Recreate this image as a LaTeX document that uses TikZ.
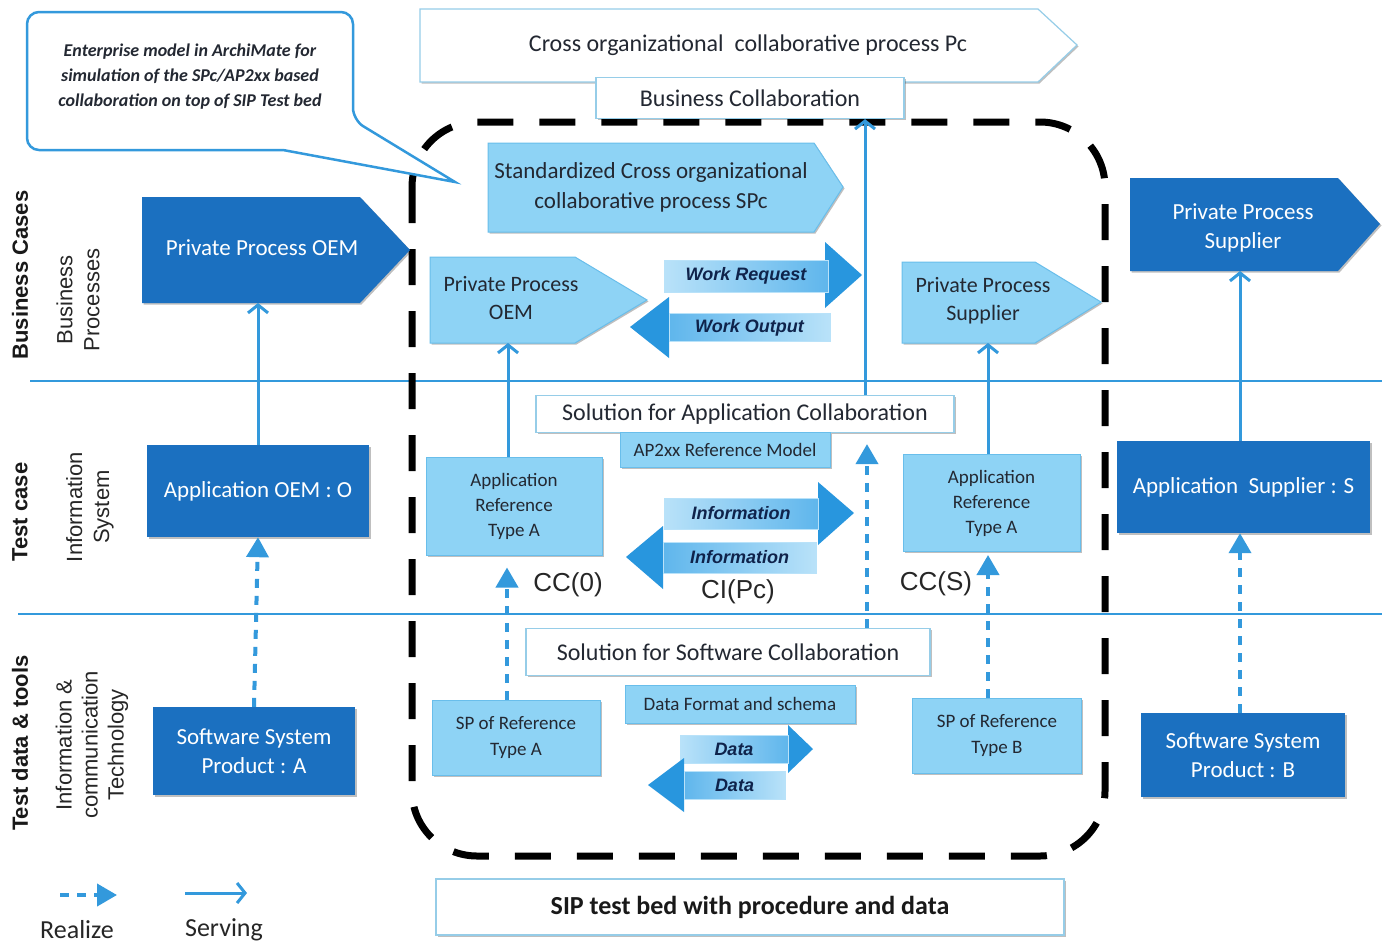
\documentclass[tikz,border=0pt]{standalone}
\usepackage{fontspec}
\setmainfont{Carlito}
\newfontfamily\arialf{Liberation Sans}
\usetikzlibrary{arrows.meta,shadows,calc}
\definecolor{dkblue}{RGB}{27,112,192}
\definecolor{ltblue}{RGB}{142,211,245}
\definecolor{ltborder}{RGB}{105,190,235}
\definecolor{lineblue}{RGB}{51,153,220}
\definecolor{wborder}{RGB}{150,205,232}
\definecolor{arrowblue}{RGB}{40,150,222}
\definecolor{arrowmid}{RGB}{95,182,236}
\definecolor{arrowlight}{RGB}{185,226,249}
\definecolor{navy}{RGB}{15,35,75}
\definecolor{txtdark}{RGB}{35,40,50}
\newcommand\fsz[2]{\fontsize{#1}{#2}\selectfont}
\tikzset{
 shd/.style={drop shadow={shadow xshift=1.5pt,shadow yshift=-1.5pt,opacity=0.25,fill=black}},
 dkbox/.style={fill=dkblue, draw=none, text=white, inner sep=0pt, align=center, font=\fsz{23}{29}, shd},
 ltbox/.style={fill=ltblue, draw=ltborder, line width=1pt, text=txtdark, inner sep=0pt, align=center, font=\fsz{19}{25}, shd},
 wbox/.style={fill=white, draw=wborder, line width=1.2pt, text=txtdark, inner sep=0pt, align=center, font=\fsz{24}{28}, shd},
 txt/.style={inner sep=0pt, align=center},
 lane/.style={draw=lineblue, line width=2.5pt},
 serve/.style={draw=lineblue, line width=3pt, -{Straight Barb[length=8pt,width=20pt]}},
 realize/.style={draw=lineblue, line width=4pt, dash pattern=on 9pt off 8pt, -{Triangle[length=20pt,width=22pt]}},
 fat/.style={fill=arrowblue, draw=none},
 lblR/.style={left color=arrowlight, right color=arrowmid, draw=arrowlight, line width=0.8pt, inner sep=0pt, text=navy, font=\arialf\bfseries\itshape\fsz{18}{20}},
 lblL/.style={left color=arrowmid, right color=arrowlight, draw=arrowlight, line width=0.8pt, inner sep=0pt, text=navy, font=\arialf\bfseries\itshape\fsz{18}{20}},
 lanelbl/.style={rotate=90, inner sep=0pt, align=center, text=black!85, font=\arialf\fsz{22}{27}},
 lanehead/.style={rotate=90, inner sep=0pt, text=black!90, font=\arialf\bfseries\fsz{22}{26}},
 cclbl/.style={inner sep=0pt, text=black!85, font=\arialf\fsz{26}{30}},
 legtxt/.style={inner sep=0pt, text=black!85, font=\fsz{26}{30}},
}
\begin{document}
\begin{tikzpicture}[x=1pt,y=-1pt]
\useasboundingbox (0,0) rectangle (1389,946);
\fill[white] (0,0) rectangle (1389,946);

% lane separators
\draw[lane] (30,381) -- (1382,381);
\draw[lane] (18,614) -- (1382,614);

% dashed test bed boundary
\draw[black, line width=7pt, dash pattern=on 36pt off 26pt, rounded corners=65pt] (412,122) rectangle (1105,856);

% callout
\draw[draw=lineblue, line width=2.5pt, fill=white, rounded corners=12pt] (27,80) -- (27,12) -- (353,12) -- (353,120) [sharp corners] -- (455,182) -- (283,150) [rounded corners=12pt] -- (27,150) -- cycle;
\node[txt, font=\bfseries\itshape\fsz{18}{25}, text=txtdark] (callT) at (190,77) {Enterprise model in ArchiMate for\\simulation of the SPc/AP2xx based\\collaboration on top of SIP Test bed};

% lane labels
\node[lanehead] (lbc) at (20,275) {Business Cases};
\node[lanelbl] (lbp) at (78,300) {Business\\Processes};
\node[lanehead] (ltc) at (20,512) {Test case};
\node[lanelbl] (lis) at (90,507) {Information\\System};
\node[lanehead] (ltd) at (20,743) {Test data \& tools};
\node[lanelbl, font=\arialf\fsz{22}{26}] (lict) at (92,745) {Information \&\\communication\\Technology};

% top process
\path[fill=white, draw=wborder, line width=1.2pt, shd] (420,9) -- (1038,9) -- (1077,45) -- (1038,82) -- (420,82) -- cycle;
\node[txt, font=\fsz{24}{28}, text=txtdark] (cross) at (748,45) {Cross organizational\ \ collaborative process Pc};
\node[wbox, minimum width=308pt, minimum height=41pt] (bc) at (750,98) {Business Collaboration};

% left column (OEM)
\path[fill=dkblue, shd] (142,197) -- (360,197) -- (410,250) -- (360,303) -- (142,303) -- cycle;
\node[txt, font=\fsz{23}{28}, text=white] (ppoem) at (262,248) {Private Process OEM};
\coordinate (ppoemB) at (258,303);
\node[dkbox, minimum width=222pt, minimum height=92pt] (appoem) at (258,491) {Application OEM : O};
\node[dkbox, minimum width=202pt, minimum height=88pt] (swa) at (254,751) {Software System\\Product : A};

% right column (supplier)
\path[fill=dkblue, shd] (1130,178) -- (1338,178) -- (1380,224) -- (1338,271) -- (1130,271) -- cycle;
\node[txt, font=\fsz{23}{29}, text=white] (ppsup) at (1243,228) {Private Process\\Supplier};
\coordinate (ppsupB) at (1240,271);
\node[dkbox, minimum width=253pt, minimum height=92pt] (appsup) at (1243.5,487) {Application\ \ Supplier : S};
\node[dkbox, minimum width=204pt, minimum height=84pt] (swb) at (1243,755) {Software System\\Product : B};

% inner business layer
\path[fill=ltblue, draw=ltborder, line width=1pt, shd] (488,143) -- (814,143) -- (843,187) -- (814,232) -- (488,232) -- cycle;
\node[txt, font=\fsz{23}{30}, text=txtdark] (spc) at (651,187) {Standardized Cross organizational\\collaborative process SPc};
\path[fill=ltblue, draw=ltborder, line width=1pt, shd] (430,257) -- (575,257) -- (647,300) -- (575,343) -- (430,343) -- cycle;
\node[txt, font=\fsz{22}{28}, text=txtdark] (ppoemi) at (511,298) {Private Process\\OEM};
\coordinate (ppoemiB) at (508,343);
\path[fill=ltblue, draw=ltborder, line width=1pt, shd] (902,262) -- (1035,262) -- (1101,302) -- (1035,343) -- (902,343) -- cycle;
\node[txt, font=\fsz{22}{28}, text=txtdark] (ppsupi) at (983,301) {Private Process\\Supplier};
\coordinate (ppsupiB) at (988,343);

% work arrows
\path[fat] (664,262) -- (825,262) -- (825,242) -- (862,275) -- (825,308) -- (825,290) -- (664,290) -- cycle;
\node[lblR, minimum width=164pt, minimum height=32pt] (wreq) at (746,276) {Work Request};
\path[fat] (630,327) -- (669,297) -- (669,314) -- (830,314) -- (830,341) -- (669,341) -- (669,358) -- cycle;
\node[lblL, minimum width=161pt, minimum height=28pt] (wout) at (749.5,327.5) {Work Output};

% application layer inner
\node[wbox, minimum width=418pt, minimum height=37pt] (solapp) at (745,414) {Solution for Application Collaboration};
\node[ltbox, minimum width=210pt, minimum height=35pt] (ap2) at (725,450) {AP2xx Reference Model};
\node[ltbox, minimum width=176pt, minimum height=98pt] (appa) at (514,506) {Application\\Reference\\Type A};
\node[ltbox, minimum width=177pt, minimum height=97pt] (appb) at (991.5,503) {Application\\Reference\\Type A};

\path[fat] (664,499) -- (818,499) -- (818,482) -- (854,513) -- (818,545) -- (818,528) -- (664,528) -- cycle;
\node[lblR, minimum width=154pt, minimum height=31pt] (infR) at (741,513.5) {Information};
\path[fat] (626,557) -- (663,526) -- (663,542) -- (816,542) -- (816,573) -- (663,573) -- (663,589) -- cycle;
\node[lblL, minimum width=153pt, minimum height=31pt] (infL) at (739.5,557.5) {Information};

\node[cclbl] (cc0) at (568,585) {CC(0)};
\node[cclbl] (cipc) at (738,592) {CI(Pc)};
\node[cclbl] (ccs) at (936,584) {CC(S)};

% technology layer inner
\node[wbox, minimum width=404pt, minimum height=47pt] (solsw) at (728,652) {Solution for Software Collaboration};
\node[ltbox, minimum width=230pt, minimum height=38pt] (dfs) at (740,704) {Data Format and schema};
\node[ltbox, minimum width=168pt, minimum height=75pt, font=\fsz{19}{26}] (spa) at (516,737.5) {SP of Reference\\Type A};
\node[ltbox, minimum width=169pt, minimum height=75pt, font=\fsz{19}{26}] (spb) at (997,735.5) {SP of Reference\\Type B};

\path[fat] (680,737) -- (788,737) -- (788,725) -- (813,749) -- (788,773) -- (788,761) -- (680,761) -- cycle;
\node[lblR, minimum width=108pt, minimum height=28pt] (datR) at (734,749) {Data};
\path[fat] (648,785) -- (684,758) -- (684,772) -- (785,772) -- (785,799) -- (684,799) -- (684,812) -- cycle;
\node[lblL, minimum width=101pt, minimum height=28pt] (datL) at (734.5,785.5) {Data};

% test bed label
\node[wbox, minimum width=628pt, minimum height=56pt, font=\bfseries\fsz{26}{30}, text=black!90] (sip) at (750,907) {SIP test bed with procedure and data};

% serving connectors
\draw[serve] (appoem.north) -- (ppoemB);
\draw[serve] (appsup.north -| ppsupB) -- (ppsupB);
\draw[serve] (appa.north -| ppoemiB) -- (ppoemiB);
\draw[serve] (appb.north -| ppsupiB) -- (ppsupiB);
\coordinate (bcl) at (865,250);
\draw[serve] (solapp.north -| bcl) -- (bc.south -| bcl);

% realize connectors
\draw[realize] (swa.north) -- (appoem.south);
\draw[realize] (swb.north -| ppsupB) -- (appsup.south -| ppsupB);
\draw[realize, shorten >=12pt] ([xshift=-9pt]spa.north) -- ([xshift=-9pt]spa.north |- appa.south);
\draw[realize, shorten >=3pt] ([xshift=-9pt]spb.north) -- ([xshift=-9pt]spb.north |- appb.south);
\coordinate (rl) at (867,500);
\draw[realize, shorten >=11pt] (solsw.north -| rl) -- (solapp.south -| rl);

% legend
\coordinate (lr1) at (60,895);
\coordinate (lr2) at (117,895);
\draw[realize] (lr1) -- (lr2);
\coordinate (ls1) at (185,893);
\coordinate (ls2) at (247,893);
\draw[serve] (ls1) -- (ls2);
\node[legtxt] (lgr) at (77,930) {Realize};
\node[legtxt] (lgs) at (224,930) {Serving};
\end{tikzpicture}
\end{document}
